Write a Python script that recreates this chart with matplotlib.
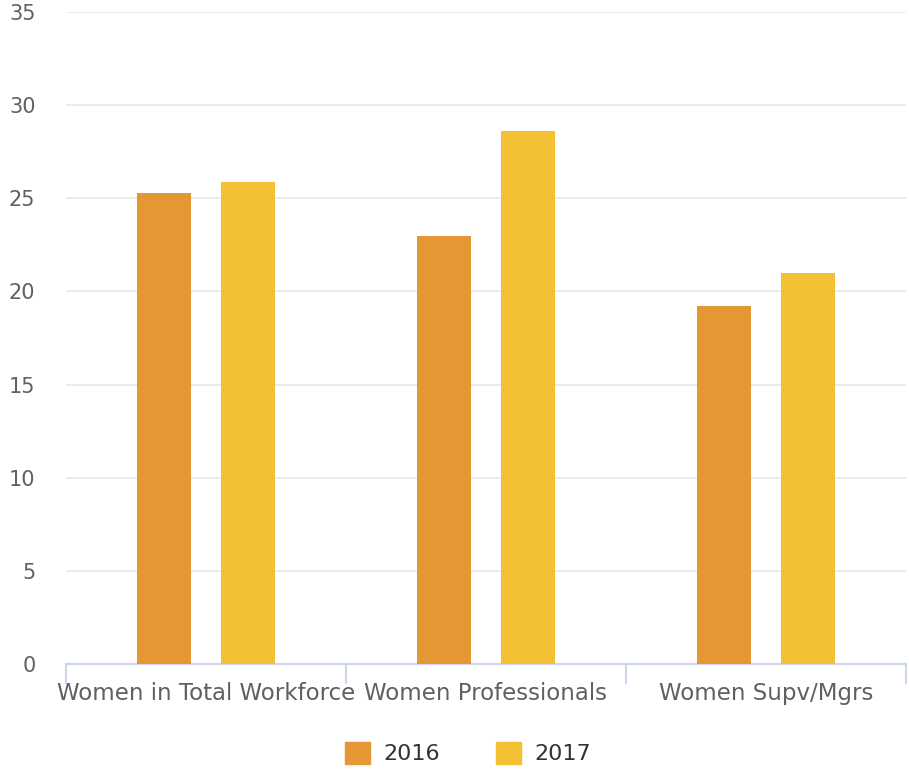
import numpy as np
import matplotlib.pyplot as plt
from matplotlib.patches import Patch

categories = ['Women in Total Workforce', 'Women Professionals', 'Women Supv/Mgrs']
vals_2016 = [25.3, 23.0, 19.2]
vals_2017 = [25.9, 28.6, 21.0]
series_names = ['2016', '2017']
colors = ['#E59735', '#F3BF33']

plt.rcParams['font.family'] = ['DejaVu Sans']

fig = plt.figure(figsize=(9.09, 7.73), dpi=100)
ax = fig.add_axes([66 / 909, 1 - 664 / 773, 840 / 909, 652 / 773])

x = np.arange(len(categories))
w = 0.19
off = 0.15
ax.bar(x - off, vals_2016, width=w, color=colors[0], zorder=3)
ax.bar(x + off, vals_2017, width=w, color=colors[1], zorder=3)

ax.set_xlim(-0.5, len(categories) - 0.5)
ax.set_ylim(0, 35)
ax.set_yticks(np.arange(0, 36, 5))
ax.yaxis.grid(True, color='#e6e6e6', lw=1.2, zorder=0)
ax.set_axisbelow(True)

for s in ['top', 'right', 'left']:
    ax.spines[s].set_visible(False)
ax.spines['bottom'].set_color('#ccd6eb')
ax.spines['bottom'].set_linewidth(1.5)

ax.tick_params(axis='y', length=0, pad=22, labelsize=15, labelcolor='#606060')
ax.set_xticks(x)
ax.set_xticklabels(categories, fontsize=16.5, color='#606060')
ax.tick_params(axis='x', length=0, pad=13)

# category boundary ticks
for b in np.arange(-0.5, len(categories), 1.0):
    ax.plot([b, b], [0, -1.0], color='#ccd6eb', lw=1.5, clip_on=False, zorder=4)

handles = [Patch(color=c, label=n) for c, n in zip(colors, series_names)]
fig.legend(handles=handles, loc='center', bbox_to_anchor=(468 / 909, 1 - 753 / 773),
           ncol=2, frameon=False, fontsize=16, handlelength=1.13, handleheight=1.13,
           columnspacing=2.5, handletextpad=0.6, labelcolor='#333333')

fig.savefig('out.png', dpi=100)
